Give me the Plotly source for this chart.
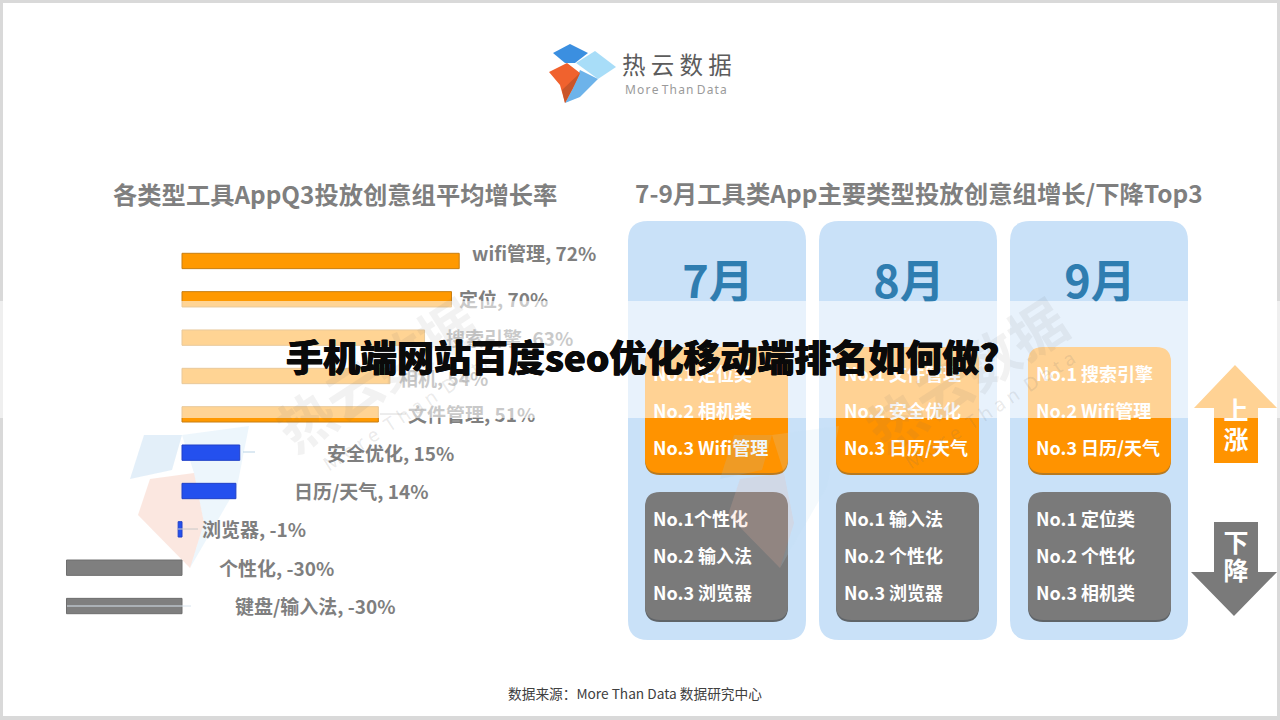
import plotly.graph_objects as go

W, H = 1280, 720
CJK = "Noto Sans CJK SC"

# ---------- data ----------
categories = ["wifi管理", "定位", "搜索引擎", "相机", "文件管理",
              "安全优化", "日历/天气", "浏览器", "个性化", "键盘/输入法"]
growth = [72, 70, 63, 54, 51, 15, 14, -1, -30, -30]
bar_colors = ["#FF9900"] * 5 + ["#2450EE"] * 3 + ["#7F7F7F"] * 2
bar_edges = ["#C97F12"] * 5 + ["#2040C8"] * 3 + ["#6E6E6E"] * 2
label_x_px = [472, 459, 446, 399, 408, 327, 294, 202, 219, 235]
label_y_px = [256, 302, 341, 381, 417, 456, 494, 532, 571, 609]

months = ["7月", "8月", "9月"]
up_lists = [["No.1 定位类", "No.2 相机类", "No.3 Wifi管理"],
            ["No.1 文件管理", "No.2 安全优化", "No.3 日历/天气"],
            ["No.1 搜索引擎", "No.2 Wifi管理", "No.3 日历/天气"]]
down_lists = [["No.1个性化", "No.2 输入法", "No.3 浏览器"],
              ["No.1 输入法", "No.2 个性化", "No.3 浏览器"],
              ["No.1 定位类", "No.2 个性化", "No.3 相机类"]]

title_text = "手机端网站百度seo优化移动端排名如何做?"
left_title = "各类型工具AppQ3投放创意组平均增长率"
right_title = "7-9月工具类App主要类型投放创意组增长/下降Top3"
source_text = "数据来源：More Than Data 数据研究中心"

# ---------- layout helpers ----------
px_x = lambda x: x / W
px_y = lambda y: 1 - y / H


def poly(points, fill, opacity=1.0, layer="below"):
    d = "M " + " L ".join(f"{px_x(x):.5f},{px_y(y):.5f}" for x, y in points) + " Z"
    return dict(type="path", xref="paper", yref="paper", path=d, fillcolor=fill,
                opacity=opacity, line=dict(width=0), layer=layer)


def round_rect(x0, y0, x1, y1, r, fill, edge=None):
    p = lambda x, y: f"{px_x(x):.5f},{px_y(y):.5f}"
    d = (f"M {p(x0 + r, y0)} L {p(x1 - r, y0)} Q {p(x1, y0)} {p(x1, y0 + r)} "
         f"L {p(x1, y1 - r)} Q {p(x1, y1)} {p(x1 - r, y1)} L {p(x0 + r, y1)} "
         f"Q {p(x0, y1)} {p(x0, y1 - r)} L {p(x0, y0 + r)} Q {p(x0, y0)} {p(x0 + r, y0)} Z")
    return dict(type="path", xref="paper", yref="paper", path=d, fillcolor=fill,
                line=dict(width=1 if edge else 0, color=edge or fill), layer="below")


def rect(x0, y0, x1, y1, fill, opacity=1.0, layer="below"):
    return dict(type="rect", xref="paper", yref="paper", x0=px_x(x0), x1=px_x(x1),
                y0=px_y(y1), y1=px_y(y0), fillcolor=fill, opacity=opacity,
                line=dict(width=0), layer=layer)


def leader(x0, x1, y, color="#B9D3E6"):
    return dict(type="line", xref="paper", yref="paper", x0=px_x(x0), x1=px_x(x1),
                y0=px_y(y), y1=px_y(y), line=dict(color=color, width=1), layer="above")


def logo_mark(dx, layer, alpha):
    return [
        poly([(144 + dx, 435), (182 + dx, 435), (172 + dx, 470), (130 + dx, 479)], "#9CC6E8", alpha, layer),
        poly([(182 + dx, 435), (249 + dx, 426), (237 + dx, 487), (190 + dx, 568), (204 + dx, 523), (194 + dx, 473)],
             "#BFDDF5", alpha, layer),
        poly([(150 + dx, 479), (194 + dx, 473), (204 + dx, 523), (190 + dx, 568), (138 + dx, 515)],
             "#F2B5A0", alpha + 0.04, layer),
    ]


shapes = [rect(3, 3, 1277, 716, "#FFFFFF")]

# faint watermark mark behind the bars
shapes += logo_mark(0, "below", 0.28)

# panels and inner boxes
panel_x = [628, 819, 1010]
box_x = [645, 836, 1028]
for x in panel_x:
    shapes.append(round_rect(x, 221, x + 178, 640, 20, "#C9E1F8"))
for x in box_x:
    shapes.append(round_rect(x, 349, x + 143, 475, 15, "#B87A20"))
    shapes.append(round_rect(x, 347, x + 143, 473, 15, "#FF9300"))
    shapes.append(round_rect(x, 494, x + 143, 622, 15, "#5F6468"))
    shapes.append(round_rect(x, 492, x + 143, 620, 15, "#7A7A7A"))

# arrows
shapes.append(poly([(1235, 365), (1277, 408), (1258, 408), (1258, 463),
                    (1214, 463), (1214, 408), (1194, 408)], "#FF9300"))
shapes.append(poly([(1214, 522), (1258, 522), (1258, 572), (1277, 572),
                    (1234, 616), (1191, 572), (1214, 572)], "#7A7A7A"))

# logo
shapes += [
    poly([(553, 53), (570, 44), (588, 53), (575, 63), (565, 63)], "#3B8FE0"),
    poly([(576, 63), (595, 51), (616, 67), (598, 79)], "#A8DDF8"),
    poly([(580, 70), (598, 79), (580, 97), (565, 103), (573, 88)], "#6DB3EA"),
    poly([(549, 72), (567, 63), (580, 73), (573, 88), (565, 103), (560, 85)], "#F0622E"),
    poly([(580, 73), (573, 88), (565, 103), (562, 90)], "#C9552A"),
]

# watermark mark over the month boxes
shapes += logo_mark(590, "above", 0.16)

# band across the page
shapes.append(rect(0, 301, W, 418, "#FFFFFF", 0.58, "above"))
# bar leader lines
shapes += [leader(243, 255, 452), leader(178, 198, 529, "#C8C8C8"),
           leader(67, 191, 606, "#D8E4EE"), leader(380, 406, 414, "#DADADA")]

# ---------- traces ----------
fig = go.Figure()

ZERO_PX, PX_PER_PCT = 182, 3.85
fig.add_trace(go.Bar(
    y=categories, x=growth, orientation="h", width=0.4,
    marker=dict(color=bar_colors, line=dict(color=bar_edges, width=1)),
    hoverinfo="skip", xaxis="x", yaxis="y", showlegend=False))

bar_labels = [f"{c}, {v}%" for c, v in zip(categories, growth)]
fig.add_trace(go.Scatter(
    x=label_x_px, y=label_y_px, text=bar_labels, mode="text", textposition="middle right",
    textfont=dict(family=CJK, size=19, color="#7F7F7F", weight="bold"),
    hoverinfo="skip", xaxis="x2", yaxis="y2", showlegend=False))

fig.add_trace(go.Scatter(
    x=[x + 90 for x in panel_x], y=[287] * 3, text=months, mode="text",
    textposition="middle center",
    textfont=dict(family=CJK, size=45, color="#2F7DB0", weight="bold"),
    hoverinfo="skip", xaxis="x2", yaxis="y2", showlegend=False))

list_x, list_y, list_t = [], [], []
for x, ups, downs in zip(box_x, up_lists, down_lists):
    for t, y in zip(ups + downs, [376, 413, 450, 521, 558, 595]):
        list_x.append(x + 8)
        list_y.append(y)
        list_t.append(t)
fig.add_trace(go.Scatter(
    x=list_x, y=list_y, text=list_t, mode="text", textposition="middle right",
    textfont=dict(family=CJK, size=18, color="#FFFFFF", weight="bold"),
    hoverinfo="skip", xaxis="x2", yaxis="y2", showlegend=False))

fig.add_trace(go.Scatter(
    x=[1236] * 4, y=[414, 443, 546, 574], text=["上", "涨", "下", "降"], mode="text",
    textposition="middle center",
    textfont=dict(family=CJK, size=25, color="#FFFFFF", weight="bold"),
    hoverinfo="skip", xaxis="x2", yaxis="y2", showlegend=False))


def note(text, x, y, size, color, weight="normal", angle=0, family=CJK, shadow=None):
    font = dict(family=family, size=size, color=color, weight=weight)
    if shadow:
        font["shadow"] = shadow
    return dict(text=text, xref="paper", yref="paper", x=px_x(x), y=px_y(y),
                xanchor="center", yanchor="middle", showarrow=False, textangle=angle, font=font)


WM_MAIN = "rgba(110,110,110,0.09)"
WM_SUB = "rgba(110,110,110,0.15)"
heavy = "0.4px 0 0 #0A0A0A, -0.4px 0 0 #0A0A0A"
annotations = [
    note("热云数据", 375, 372, 56, WM_MAIN, "bold", -33),
    note("M o r e  T h a n  D a t a", 408, 412, 19, WM_SUB, "normal", -33, family="Noto Sans"),
    note("热云数据", 965, 372, 56, WM_MAIN, "bold", -33),
    note("M o r e  T h a n  D a t a", 990, 410, 19, WM_SUB, "normal", -33, family="Noto Sans"),
    note("热 云 数 据", 676.5, 64, 23.5, "#5C5C5C", "normal"),
    note("M\u200ao\u200ar\u200ae\u200a\u2009T\u200ah\u200aa\u200an\u200a\u2009D\u200aa\u200at\u200aa", 676, 89, 12,
         "#9A9A9A", "normal", family="Noto Sans"),
    note(left_title, 334.5, 194, 24.3, "#7F7F7F", "bold"),
    note(right_title, 918.5, 193, 24.4, "#7F7F7F", "bold"),
    note(source_text, 635, 693, 13.7, "#404040"),
    note(title_text, 642, 356, 37, "#0A0A0A", 900, shadow=heavy),
]

# axes: x2/y2 read in page pixels, x/y hold the bar scale
plot_left, plot_right = 40, 620
bar_top, bar_bottom = 241.8, 625.2
hidden = dict(visible=False, showgrid=False, zeroline=False, fixedrange=True)
fig.update_layout(
    width=W, height=H, margin=dict(l=0, r=0, t=0, b=0), autosize=False,
    paper_bgcolor="#D9D9D9", plot_bgcolor="rgba(0,0,0,0)", showlegend=False,
    bargap=0.6,
    xaxis=dict(hidden, domain=[px_x(plot_left), px_x(plot_right)],
               range=[(plot_left - ZERO_PX) / PX_PER_PCT, (plot_right - ZERO_PX) / PX_PER_PCT]),
    yaxis=dict(hidden, domain=[px_y(bar_bottom), px_y(bar_top)], autorange=False,
               range=[len(categories) - 0.5, -0.5], type="category"),
    xaxis2=dict(hidden, domain=[0, 1], range=[0, W], anchor="y2"),
    yaxis2=dict(hidden, domain=[0, 1], range=[H, 0], anchor="x2"),
    shapes=shapes, annotations=annotations,
)

fig.write_html("out.html", config={"displayModeBar": False},
               post_script="document.body.style.margin='0';document.body.style.overflow='hidden';")
